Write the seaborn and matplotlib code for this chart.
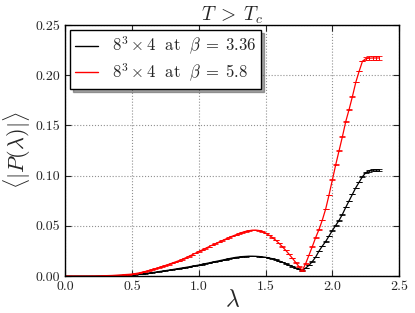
import numpy as np
import pandas as pd
import matplotlib
matplotlib.use("Agg")
import matplotlib.pyplot as plt
import seaborn as sns

# lambda grid (step 0.025)
lam = [0.000, 0.025, 0.050, 0.075, 0.100, 0.125, 0.150, 0.175, 0.200, 0.225,
       0.250, 0.275, 0.300, 0.325, 0.350, 0.375, 0.400, 0.425, 0.450, 0.475,
       0.500, 0.525, 0.550, 0.575, 0.600, 0.625, 0.650, 0.675, 0.700, 0.725,
       0.750, 0.775, 0.800, 0.825, 0.850, 0.875, 0.900, 0.925, 0.950, 0.975,
       1.000, 1.025, 1.050, 1.075, 1.100, 1.125, 1.150, 1.175, 1.200, 1.225,
       1.250, 1.275, 1.300, 1.325, 1.350, 1.375, 1.400, 1.425, 1.450, 1.475,
       1.500, 1.525, 1.550, 1.575, 1.600, 1.625, 1.650, 1.675, 1.700, 1.725,
       1.750, 1.775, 1.800, 1.825, 1.850, 1.875, 1.900, 1.925, 1.950, 1.975,
       2.000, 2.025, 2.050, 2.075, 2.100, 2.125, 2.150, 2.175, 2.200, 2.225,
       2.250, 2.275, 2.300, 2.325, 2.350]

# beta = 3.36 (black)
p_336 = [0.0000, 0.0000, 0.0000, 0.0000, 0.0000, 0.0000, 0.0000, 0.0000, 0.0000, 0.0000,
         0.0001, 0.0001, 0.0002, 0.0002, 0.0003, 0.0004, 0.0005, 0.0007, 0.0009, 0.0011,
         0.0013, 0.0016, 0.0019, 0.0022, 0.0026, 0.0030, 0.0034, 0.0039, 0.0044, 0.0049,
         0.0054, 0.0059, 0.0064, 0.0070, 0.0075, 0.0081, 0.0086, 0.0092, 0.0098, 0.0104,
         0.0110, 0.0117, 0.0124, 0.0131, 0.0138, 0.0145, 0.0152, 0.0159, 0.0166, 0.0173,
         0.0180, 0.0186, 0.0190, 0.0194, 0.0196, 0.0198, 0.0198, 0.0197, 0.0195, 0.0192,
         0.0187, 0.0181, 0.0173, 0.0163, 0.0151, 0.0138, 0.0124, 0.0110, 0.0096, 0.0082,
         0.0068, 0.0055, 0.0080, 0.0108, 0.0145, 0.0190, 0.0250, 0.0300, 0.0345, 0.0400,
         0.0455, 0.0505, 0.0555, 0.0615, 0.0685, 0.0750, 0.0815, 0.0880, 0.0935, 0.0990,
         0.1030, 0.1050, 0.1055, 0.1056, 0.1056]

# beta = 5.8 (red)
p_58 = [0.0000, 0.0000, 0.0000, 0.0000, 0.0000, 0.0000, 0.0000, 0.0000, 0.0001, 0.0001,
        0.0002, 0.0003, 0.0004, 0.0005, 0.0006, 0.0008, 0.0010, 0.0012, 0.0015, 0.0017,
        0.0020, 0.0025, 0.0031, 0.0038, 0.0046, 0.0055, 0.0064, 0.0074, 0.0084, 0.0095,
        0.0106, 0.0117, 0.0129, 0.0141, 0.0153, 0.0166, 0.0181, 0.0196, 0.0212, 0.0228,
        0.0245, 0.0260, 0.0276, 0.0292, 0.0308, 0.0323, 0.0338, 0.0353, 0.0368, 0.0383,
        0.0397, 0.0410, 0.0423, 0.0435, 0.0445, 0.0452, 0.0457, 0.0458, 0.0454, 0.0444,
        0.0428, 0.0408, 0.0385, 0.0358, 0.0327, 0.0293, 0.0257, 0.0219, 0.0178, 0.0136,
        0.0094, 0.0055, 0.0125, 0.0210, 0.0295, 0.0385, 0.0465, 0.0560, 0.0670, 0.0810,
        0.0960, 0.1110, 0.1250, 0.1390, 0.1540, 0.1660, 0.1790, 0.1930, 0.2040, 0.2140,
        0.2165, 0.2170, 0.2172, 0.2172, 0.2172]

# statistical errors: tiny along the curve, larger on the plateau
err_336 = [0.0002] * 90 + [0.0008, 0.0010, 0.0010, 0.0010, 0.0010]
err_58 = [0.0002] * 90 + [0.0015, 0.0020, 0.0020, 0.0020, 0.0020]

labels = [r"$8^3\times 4\;$ at $\;\beta\;=\;3.36$", r"$8^3\times 4\;$ at $\;\beta\;=\;5.8$"]
colors = ["black", "red"]

sns.set_style("ticks")
plt.rcParams["font.family"] = "serif"
plt.rcParams["font.serif"] = ["cmr10", "DejaVu Serif"]
plt.rcParams["mathtext.fontset"] = "cm"
plt.rcParams["axes.formatter.use_mathtext"] = True

fig = plt.figure(figsize=(4.15, 3.13), dpi=100)
ax = fig.add_axes([0.157, 0.118, 0.805, 0.802])

for vals, err, col, lab in zip([p_336, p_58], [err_336, err_58], colors, labels):
    sns.lineplot(x=lam, y=vals, color=col, linestyle="-", linewidth=0.9,
                 estimator=None, sort=False, ax=ax, label=lab)
    ax.errorbar(lam, vals, yerr=err, fmt="none", ecolor=col,
                elinewidth=0.7, capsize=2.0, capthick=0.6)

handles = [matplotlib.lines.Line2D([], [], color=c, lw=1.0) for c in colors]
leg = ax.legend(handles, labels, loc="upper left", fontsize=12, frameon=True,
                fancybox=False, shadow=True, handlelength=1.4, borderaxespad=0.3,
                labelspacing=0.25, borderpad=0.3)
leg.get_frame().set_edgecolor("black")
leg.get_frame().set_linewidth(1.0)

ax.set_xlim(0, 2.5)
ax.set_ylim(0, 0.25)
ax.set_xticks([0.0, 0.5, 1.0, 1.5, 2.0, 2.5])
ax.set_yticks([0.00, 0.05, 0.10, 0.15, 0.20, 0.25])
ax.xaxis.set_major_formatter(matplotlib.ticker.FormatStrFormatter("%.1f"))
ax.yaxis.set_major_formatter(matplotlib.ticker.FormatStrFormatter("%.2f"))
ax.tick_params(direction="in", top=True, right=True, labelsize=10, length=4)
ax.grid(True, linestyle=":", color="#909090", linewidth=0.8)
for s in ax.spines.values():
    s.set_color("black")
    s.set_linewidth(1.0)

ax.set_title(r"$T\;>\;T_c$", fontsize=14, pad=3)
ax.set_xlabel(r"$\lambda$", fontsize=17, labelpad=-3)
ax.set_ylabel(r"$\langle|P(\lambda)|\rangle$", fontsize=16, labelpad=2)

fig.savefig("out.png", dpi=100)
